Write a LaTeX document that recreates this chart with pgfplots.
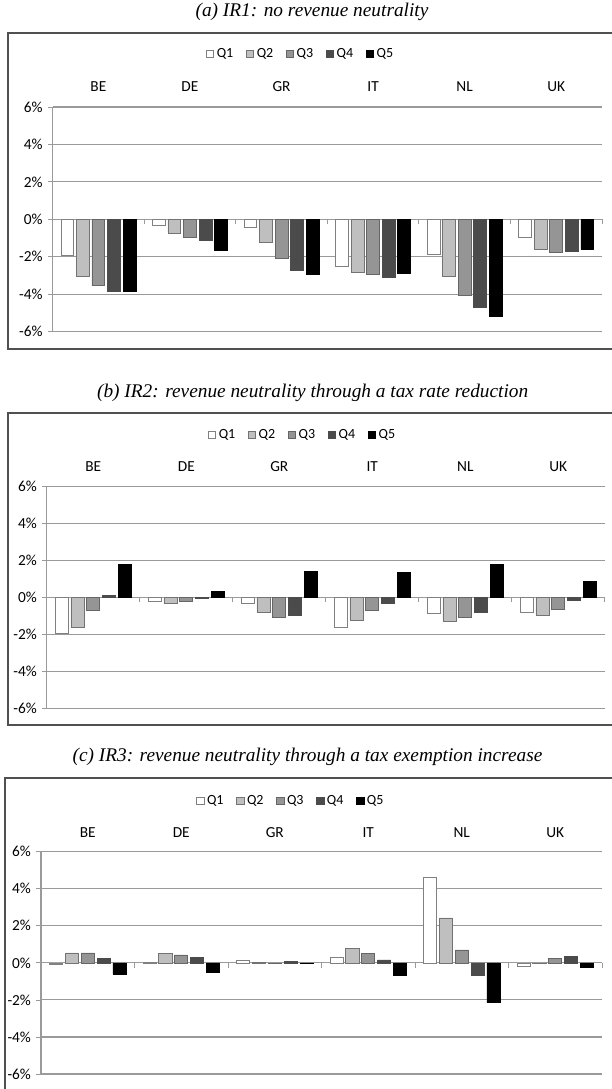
\documentclass[border=0pt]{standalone}
\usepackage{pgfplots}
\pgfplotsset{compat=1.18}
\usepackage{fontspec}
\setmainfont{Carlito}
\newfontfamily\tnr{Liberation Serif}
\definecolor{qa}{HTML}{FFFFFF}
\definecolor{qb}{HTML}{BFBFBF}
\definecolor{qc}{HTML}{959595}
\definecolor{qd}{HTML}{4B4B4B}
\definecolor{qe}{HTML}{000000}
\definecolor{gridc}{HTML}{9A9A9A}
\definecolor{framec}{HTML}{505050}
\pgfplotsset{
  panel/.style={
    scale only axis,
    xmin=-0.5, xmax=5.5, ymin=-6, ymax=6,
    axis x line=middle, axis y line=left,
    x axis line style={-, draw=gridc, line width=0.8pt},
    y axis line style={-, draw=gridc, line width=0.8pt},
    xtick={-0.5,0.5,...,5.5}, xticklabels={},
    ytick={-6,-4,...,6},
    yticklabels={-6\%,-4\%,-2\%,0\%,2\%,4\%,6\%},
    tick align=outside,
    major tick length=3.5pt,
    tick style={draw=gridc, line width=0.6pt},
    ymajorgrids, grid style={draw=gridc, line width=0.8pt},
    tick label style={font=\fontsize{11.5}{13}\selectfont},
    yticklabel style={xshift=-0.5pt},
    ybar, bar width=0.14,
    clip=false,
    legend style={draw=none, fill=none, font=\fontsize{10.5}{12}\selectfont,
      anchor=center, legend columns=5,
      /tikz/every even column/.append style={column sep=7.5pt},
      inner sep=0pt},
    legend image code/.code={\draw[#1, line width=0.5pt] (0pt,-2.8pt) rectangle (5.6pt,2.8pt);},
  },
  s1/.style={fill=qa, draw=black!50, line width=0.5pt, bar shift=-0.34},
  s2/.style={fill=qb, draw=black!55, line width=0.5pt, bar shift=-0.17},
  s3/.style={fill=qc, draw=black!60, line width=0.5pt, bar shift=0},
  s4/.style={fill=qd, draw=black!70, line width=0.5pt, bar shift=0.17},
  s5/.style={fill=qe, draw=black, line width=0.5pt, bar shift=0.34},
}
\newcommand\cf{\fontsize{11.5}{13}\selectfont}
\newcommand\countries[1]{%
  \node[font=\cf] at ([yshift=#1]axis cs:0,6) {BE};
  \node[font=\cf] at ([yshift=#1]axis cs:1,6) {DE};
  \node[font=\cf] at ([yshift=#1]axis cs:2,6) {GR};
  \node[font=\cf] at ([yshift=#1]axis cs:3,6) {IT};
  \node[font=\cf] at ([yshift=#1]axis cs:4,6) {NL};
  \node[font=\cf] at ([yshift=#1]axis cs:5,6) {UK};
}
\begin{document}
\begin{tikzpicture}
\useasboundingbox (0pt,0pt) rectangle (458.25pt,-816.75pt);
% titles
\node[font=\tnr\itshape\fontsize{14.5}{16}\selectfont] at (234pt,-9pt) {(a) IR1: no revenue neutrality};
\node[font=\tnr\itshape\fontsize{14.5}{16}\selectfont] at (234.5pt,-294.75pt) {(b) IR2: revenue neutrality through a tax rate reduction};
\node[font=\tnr\itshape\fontsize{14.5}{16}\selectfont] at (230.6pt,-567.75pt) {(c) IR3: revenue neutrality through a tax exemption increase};
% frames
\draw[framec, line width=1.1pt] (6pt,-24.75pt) rectangle (480pt,-261.75pt);
\draw[framec, line width=1.1pt] (6pt,-309.75pt) rectangle (480pt,-543.75pt);
\draw[framec, line width=1.1pt] (3.75pt,-583.5pt) rectangle (480pt,-840pt);

% ---------- panel (a)
\begin{axis}[panel, at={(39.45pt,-80.25pt)}, anchor=north west,
  width=412.05pt, height=168.4pt,
  legend style={at={(0.452,1.236)}}]
\addplot[s1] coordinates {(0,-1.91) (1,-0.32) (2,-0.43) (3,-2.52) (4,-1.90) (5,-0.99)};
\addplot[s2] coordinates {(0,-3.03) (1,-0.73) (2,-1.24) (3,-2.85) (4,-3.07) (5,-1.61)};
\addplot[s3] coordinates {(0,-3.55) (1,-0.94) (2,-2.09) (3,-2.93) (4,-4.06) (5,-1.79)};
\addplot[s4] coordinates {(0,-3.83) (1,-1.12) (2,-2.71) (3,-3.12) (4,-4.73) (5,-1.70)};
\addplot[s5] coordinates {(0,-3.83) (1,-1.67) (2,-2.93) (3,-2.89) (4,-5.20) (5,-1.61)};
\legend{Q1,Q2,Q3,Q4,Q5}
\countries{15pt}
\end{axis}

% ---------- panel (b)
\begin{axis}[panel, at={(35.1pt,-365.0pt)}, anchor=north west,
  width=418.5pt, height=166.2pt,
  legend style={at={(0.459,1.235)}}]
\addplot[s1] coordinates {(0,-1.95) (1,-0.22) (2,-0.29) (3,-1.59) (4,-0.88) (5,-0.81)};
\addplot[s2] coordinates {(0,-1.61) (1,-0.34) (2,-0.83) (3,-1.23) (4,-1.28) (5,-0.97)};
\addplot[s3] coordinates {(0,-0.72) (1,-0.22) (2,-1.05) (3,-0.70) (4,-1.10) (5,-0.65)};
\addplot[s4] coordinates {(0,0.10) (1,-0.04) (2,-0.94) (3,-0.34) (4,-0.79) (5,-0.18)};
\addplot[s5] coordinates {(0,1.77) (1,0.32) (2,1.41) (3,1.34) (4,1.77) (5,0.88)};
\legend{Q1,Q2,Q3,Q4,Q5}
\countries{14.8pt}
\end{axis}

% ---------- panel (c)
\begin{axis}[panel, at={(30.75pt,-638.8pt)}, anchor=north west,
  width=420.75pt, height=166.7pt,
  legend style={at={(0.446,1.228)}}]
\addplot[s1] coordinates {(0,-0.07) (1,0.05) (2,0.12) (3,0.32) (4,4.62) (5,-0.16)};
\addplot[s2] coordinates {(0,0.54) (1,0.50) (2,0.04) (3,0.77) (4,2.43) (5,-0.04)};
\addplot[s3] coordinates {(0,0.54) (1,0.43) (2,-0.03) (3,0.50) (4,0.70) (5,0.25)};
\addplot[s4] coordinates {(0,0.22) (1,0.29) (2,0.07) (3,0.16) (4,-0.65) (5,0.36)};
\addplot[s5] coordinates {(0,-0.61) (1,-0.52) (2,-0.03) (3,-0.65) (4,-2.14) (5,-0.23)};
\legend{Q1,Q2,Q3,Q4,Q5}
\countries{14.25pt}
\end{axis}
\end{tikzpicture}
\end{document}
